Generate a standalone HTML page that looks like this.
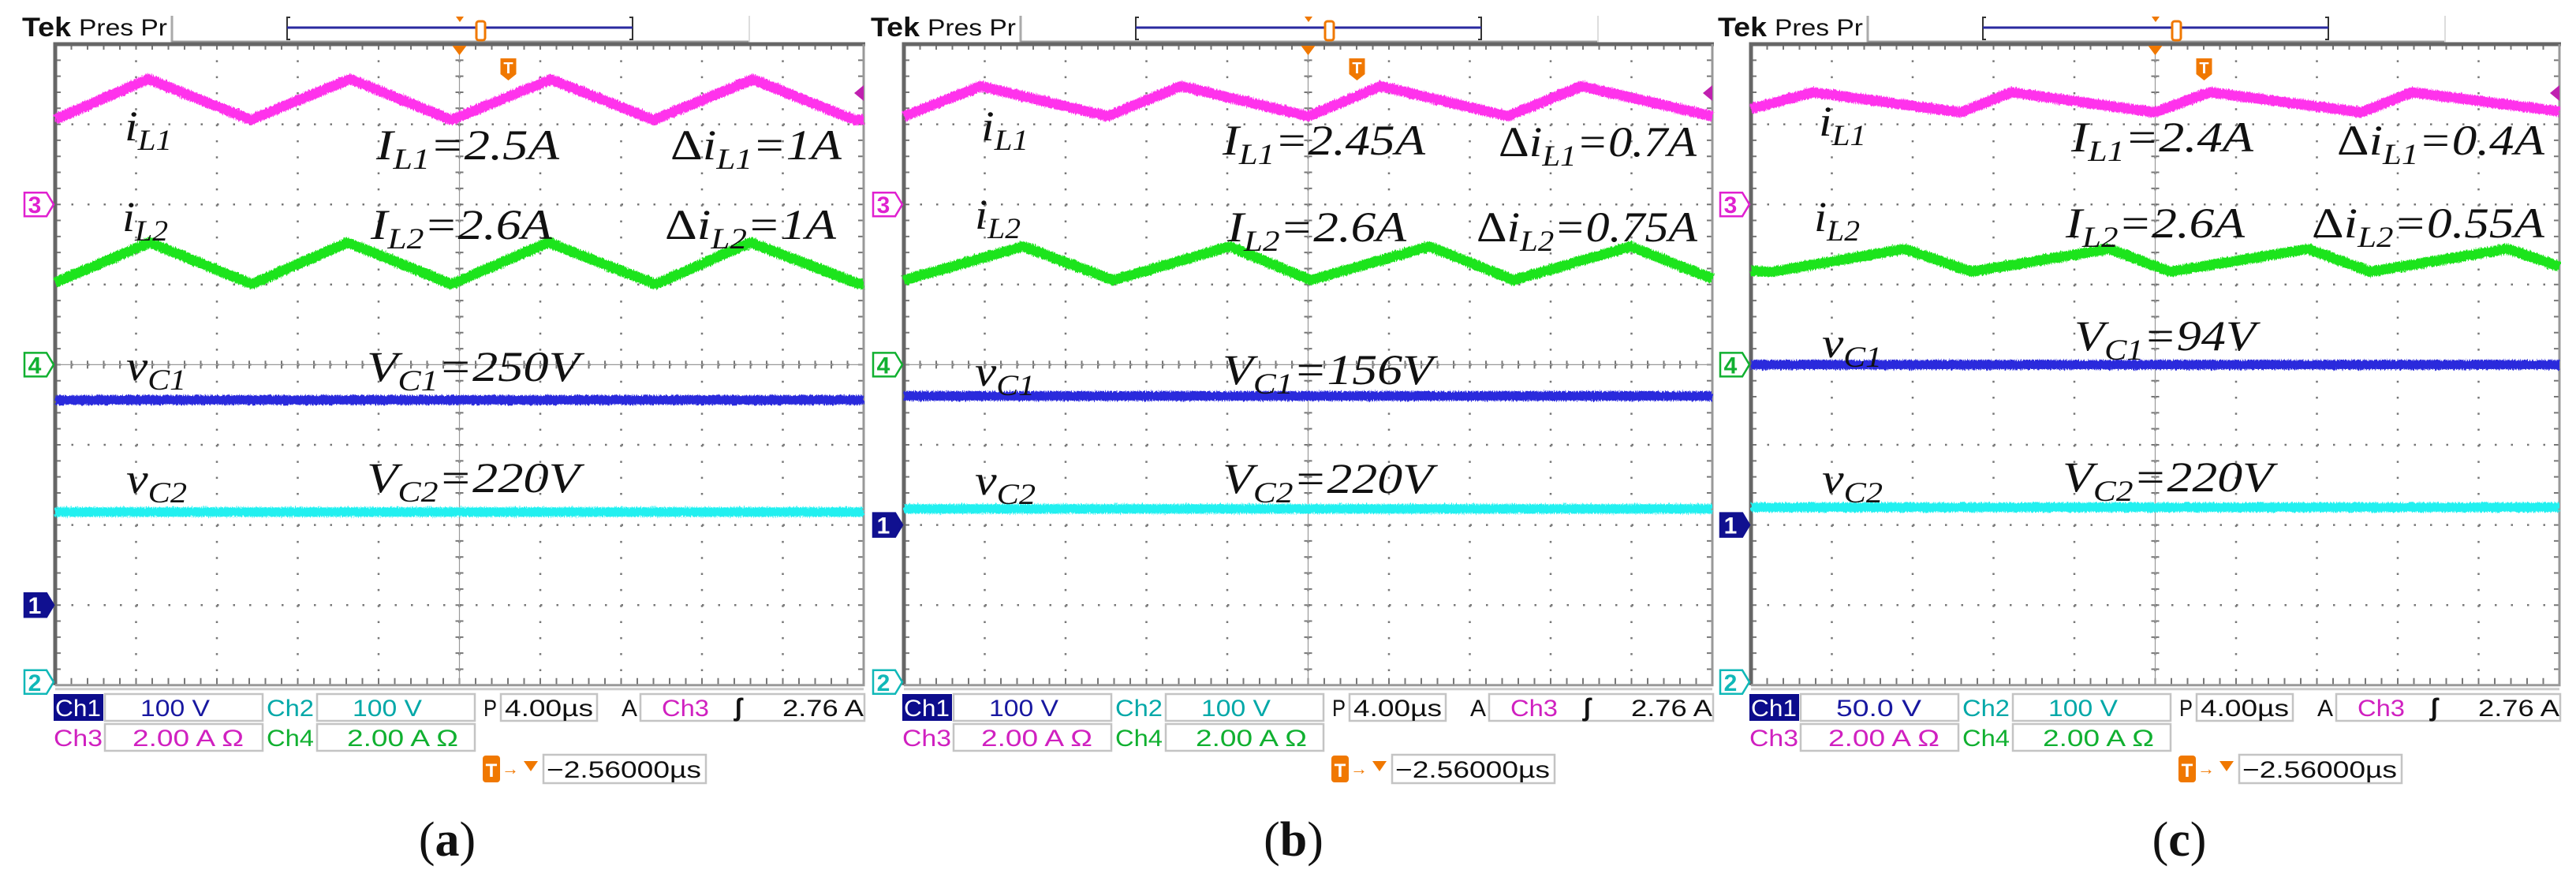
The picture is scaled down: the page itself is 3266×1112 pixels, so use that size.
<!DOCTYPE html>
<html><head><meta charset="utf-8">
<style>
html,body{margin:0;padding:0;background:#fff;}
svg{display:block;}
</style></head>
<body>
<svg id="fig" width="3266" height="1112" viewBox="0 0 3266 1112" xmlns="http://www.w3.org/2000/svg">
<defs>
<filter id="noise" filterUnits="userSpaceOnUse" x="0" y="0" width="3266" height="1112">
<feTurbulence type="fractalNoise" baseFrequency="0.9 0.25" numOctaves="1" seed="3" result="t"/>
<feDisplacementMap in="SourceGraphic" in2="t" scale="7" xChannelSelector="R" yChannelSelector="G"/>
</filter>
</defs>
</svg>
<script>
// ---- data (physical units) ----
const panelLetters = ["a","b","c"];
const timeA_iL1 = [0,1.15,2.42,3.65,4.9,6.13,7.4,8.63,9.9,10];
const valA_iL1  = [2.12,3.13,2.11,3.13,2.11,3.12,2.11,3.12,2.10,2.12];
const timeA_iL2 = [0,1.17,2.43,3.62,4.9,6.1,7.43,8.6,9.95,10];
const valA_iL2  = [2.05,3.05,2.01,3.05,2.01,3.05,2.01,3.05,2.01,2.02];
const timeB_iL1 = [0,0.95,2.52,3.43,5.0,5.9,7.47,8.38,10];
const valB_iL1  = [2.2,2.95,2.2,2.95,2.2,2.95,2.2,2.95,2.2];
const timeB_iL2 = [0,1.48,2.59,4.03,5.03,6.5,7.54,8.99,10];
const valB_iL2  = [2.11,2.95,2.11,2.95,2.11,2.95,2.11,2.95,2.15];
const timeC_iL1 = [0,0.76,2.6,3.22,4.99,5.68,7.55,8.18,10];
const valC_iL1  = [2.38,2.8,2.3,2.8,2.3,2.8,2.3,2.8,2.32];
const timeC_iL2 = [0,0.27,1.9,2.73,4.43,5.19,6.89,7.66,9.36,10];
const valC_iL2  = [2.34,2.32,2.89,2.32,2.89,2.32,2.89,2.32,2.89,2.45];
const timeV = [0,10];
const valA_vC1 = [256,256];
const valA_vC2 = [216,216];
const valB_vC1 = [161,161];
const valB_vC2 = [220,220];
const valC_vC1 = [100,100];
const valC_vC2 = [222,222];
const ch1Scale = [100,100,50];   // V/div
const ch1Pos = [7,6,6];          // marker division from top
const ch1ScaleLabel = ["100 V","100 V","50.0 V"];
const labelIL1 = ["2.5A","2.45A","2.4A"];
const labelIL2 = ["2.6A","2.6A","2.6A"];
const labelDIL1 = ["1A","0.7A","0.4A"];
const labelDIL2 = ["1A","0.75A","0.55A"];
const labelVC1 = ["250V","156V","94V"];
const labelVC2 = ["220V","220V","220V"];

const series = [
 {t1:timeA_iL1,v1:valA_iL1,t2:timeA_iL2,v2:valA_iL2,vc1:valA_vC1,vc2:valA_vC2},
 {t1:timeB_iL1,v1:valB_iL1,t2:timeB_iL2,v2:valB_iL2,vc1:valB_vC1,vc2:valB_vC2},
 {t1:timeC_iL1,v1:valC_iL1,t2:timeC_iL2,v2:valC_iL2,vc1:valC_vC1,vc2:valC_vC2}
];

// ---- layout ----
const NS="http://www.w3.org/2000/svg";
const svg=document.getElementById("fig");
const offsets=[0,1076,2150];
const PL=70, PT=56, DX=102.5, DY=101.6;
const PR=PL+10*DX, PB=PT+8*DY;
const captionX=[567,1640-1076,2763-2150];

function el(tag,attrs,parent){const e=document.createElementNS(NS,tag);for(const k in attrs)e.setAttribute(k,attrs[k]);(parent||svg).appendChild(e);return e;}

// text with subscripts: segs = [[str,isSub,isUpright],...]
function mtext(g,x,y,segs,len,size){
  const t=el("text",{x:x,y:y,"font-family":"'Liberation Serif',serif","font-style":"italic","font-size":size,fill:"#111"},g);
  if(len){t.setAttribute("textLength",len);t.setAttribute("lengthAdjust","spacingAndGlyphs");}
  let sub=false;
  segs.forEach(s=>{
    const ts=el("tspan",{},t);
    if(s[1]&&!sub){ts.setAttribute("dy",12);sub=true;}
    else if(!s[1]&&sub){ts.setAttribute("dy",-12);sub=false;}
    if(s[1])ts.setAttribute("font-size",size*0.68);
    if(s[2])ts.setAttribute("font-style","normal");
    ts.textContent=s[0];
  });
  return t;
}

function stext(g,x,y,str,len,color,size,anchor){
  const t=el("text",{x:x,y:y,"font-family":"'Liberation Sans',sans-serif","font-size":size||30,fill:color||"#111"},g);
  if(len){t.setAttribute("textLength",len);t.setAttribute("lengthAdjust","spacingAndGlyphs");}
  if(anchor)t.setAttribute("text-anchor",anchor);
  t.textContent=str;return t;
}

panelLetters.forEach((L,p)=>{
  const g=el("g",{transform:`translate(${offsets[p]},0)`});
  
  
  const xs=t=>PL+t*DX;
  const yDiv=d=>PT+d*DY;
  const yCh3=v=>yDiv(2)-v/2*DY;
  const yCh4=v=>yDiv(4)-v/2*DY;
  const yCh1=v=>yDiv(ch1Pos[p])-v/ch1Scale[p]*DY;
  const yCh2=v=>yDiv(8)-v/100*DY;

  // header
  const hd=el("g",{},g);
  
  
  const tek=el("text",{x:28,y:46,"font-family":"'Liberation Sans',sans-serif","font-weight":"bold","font-size":34,fill:"#111",textLength:62,lengthAdjust:"spacingAndGlyphs"},hd);
  tek.textContent="Tek";
  stext(hd,100,45,"Pres Pr",112,"#111",30);
  el("line",{x1:218,y1:20,x2:218,y2:54,stroke:"#aaa","stroke-width":3},hd);
  el("line",{x1:218,y1:53,x2:950,y2:53,stroke:"#999","stroke-width":3},hd);
  el("line",{x1:950,y1:20,x2:950,y2:54,stroke:"#ddd","stroke-width":2},hd);
  const rec=el("g",{},hd);
  
  
  el("path",{d:"M368,22 L364,22 L364,50 L368,50 M798,22 L802,22 L802,50 L798,50",fill:"none",stroke:"#333","stroke-width":2},rec);
  el("line",{x1:364,y1:35,x2:802,y2:35,stroke:"#2a2aa0","stroke-width":3},rec);
  el("path",{d:"M578,21 L588,21 L583,28 Z",fill:"#f07800"},rec);
  el("rect",{x:604,y:27,width:11,height:24,rx:3,fill:"#fff",stroke:"#f07800","stroke-width":3},rec);

  // plot
  const plot=el("g",{},g);
  
  
  el("rect",{x:PL,y:PT,width:PR-PL,height:PB-PT,fill:"#fff"},plot);
  for(let i=1;i<10;i++){
    el("line",{x1:xs(i),y1:PT,x2:xs(i),y2:PB,stroke:"#777","stroke-width":2.5,"stroke-dasharray":"2.5 17.82"},plot);
  }
  for(let j=1;j<8;j++){
    el("line",{x1:PL,y1:yDiv(j),x2:PR,y2:yDiv(j),stroke:"#777","stroke-width":2.5,"stroke-dasharray":"2.5 18"},plot);
  }
  let d="";
  for(let k=0;k<=50;k++){const x=PL+k*DX/5;d+=`M${x},${yDiv(4)-5}L${x},${yDiv(4)+5}`;d+=`M${x},${PT}L${x},${PT+7}M${x},${PB}L${x},${PB-9}`;}
  for(let k=0;k<=40;k++){const y=PT+k*DY/5;d+=`M${xs(5)-5},${y}L${xs(5)+5},${y}`;d+=`M${PL},${y}L${PL+7},${y}M${PR},${y}L${PR-7},${y}`;}
  el("path",{d:d,stroke:"#777","stroke-width":2,fill:"none"},plot);
  el("line",{x1:xs(5),y1:PT,x2:xs(5),y2:PB,stroke:"#999","stroke-width":1.2},plot);
  el("line",{x1:PL,y1:yDiv(4),x2:PR,y2:yDiv(4),stroke:"#999","stroke-width":1.2},plot);
  el("path",{d:`M${PL},${PB}L${PL},${PT}L${PR+2},${PT}`,fill:"none",stroke:"#666","stroke-width":5},plot);
  el("path",{d:`M${PR},${PT}L${PR},${PB}L${PL},${PB}`,fill:"none",stroke:"#999","stroke-width":3},plot);
  el("line",{x1:PL,y1:PB+5,x2:PR,y2:PB+5,stroke:"#ccc","stroke-width":3},plot);

  // waveforms
  const S=series[p];
  function wave(ts,vs,fy,color,w,name){
    const pts=ts.map((t,i)=>`${xs(t).toFixed(1)},${fy(vs[i]).toFixed(1)}`).join(" ");
    const pl=el("polyline",{points:pts,fill:"none",stroke:color,"stroke-width":w,"stroke-linejoin":"round",filter:"url(#noise)"},g);
    
    
  }
  wave(S.t1,S.v1,yCh3,"#ff30ec",13,"trace-il1");
  wave(S.t2,S.v2,yCh4,"#1fe41f",13,"trace-il2");
  wave(timeV,S.vc1,yCh1,"#2b2bdc",12,"trace-vc1");
  wave(timeV,S.vc2,yCh2,"#22f0f0",12,"trace-vc2");

  // channel markers
  function marker(y,num,color,filled,name){
    const m=el("g",{},g);
    
    
    el("path",{d:`M31,${y-15}L59,${y-15}L68,${y}L59,${y+15}L31,${y+15}Z`,fill:filled?color:"#fff",stroke:color,"stroke-width":2.5},m);
    const t=stext(m,44,y+11,num,null,filled?"#fff":color,30,"middle");
    t.setAttribute("font-weight","bold");
  }
  marker(yDiv(2),"3","#e020d0",false,"ch3-marker");
  marker(yDiv(4),"4","#10b030",false,"ch4-marker");
  marker(yDiv(ch1Pos[p]),"1","#101090",true,"ch1-marker");
  marker(yDiv(8)-4,"2","#10b8b8",false,"ch2-marker");
  const ta=el("path",{d:`M${PR-12},${PT+62}L${PR},${PT+52}L${PR},${PT+72}Z`,fill:"#c020b0"},g);
  
  
  const tm=el("g",{},g);
  
  
  el("path",{d:`M${xs(5)-9},${PT+2}L${xs(5)+9},${PT+2}L${xs(5)},${PT+14}Z`,fill:"#f07800"},tm);
  el("path",{d:`M${xs(5)+52},${PT+18}L${xs(5)+72},${PT+18}L${xs(5)+72},${PT+38}L${xs(5)+62},${PT+46}L${xs(5)+52},${PT+38}Z`,fill:"#f07800"},tm);
  stext(tm,xs(5)+62,PT+37,"T",null,"#fff",20,"middle").setAttribute("font-weight","bold");

  // annotations
  const an=el("g",{},g);
  
  
  const rows=[
    {a:[p==2?156:(p==1?168:158),[178,178,172][p],[["i",0],["L1",1]],60],
     b:[[477,474,476][p],[202,196,192][p],[["I",0],["L1",1],["="+labelIL1[p],0]],[232,257,231][p]],
     c:[[850,824,813][p],[202,198,196][p],[["Δ",0,1],["i",0],["L1",1],["="+labelDIL1[p],0]],[217,251,263][p]]},
    {a:[p==2?150:(p==1?160:155),[293,290,293][p],[["i",0],["L2",1]],58],
     b:[[470,480,469][p],[303,306,301][p],[["I",0],["L2",1],["="+labelIL2[p],0]],[230,227,227][p]],
     c:[[843,796,781][p],[303,306,301][p],[["Δ",0,1],["i",0],["L2",1],["="+labelDIL2[p],0]],[217,280,295][p]]},
    {a:[160,[482,489,453][p],[["v",0],["C1",1]],76],
     b:[[465,474,480][p],[483,487,444][p],[["V",0],["C1",1],["="+labelVC1[p],0]],[270,267,230][p]]},
    {a:[160,[625,627,625][p],[["v",0],["C2",1]],77],
     b:[[465,474,465][p],[624,625,623][p],[["V",0],["C2",1],["="+labelVC2[p],0]],[270,267,267][p]]}
  ];
  rows.forEach(r=>{
    mtext(an,r.a[0],r.a[1],r.a[2],r.a[3],54);
    mtext(an,r.b[0],r.b[1],r.b[2],r.b[3],54);
    if(r.c) mtext(an,r.c[0],r.c[1],r.c[2],r.c[3],54);
  });

  // bottom readout
  const rd=el("g",{},g);
  
  
  function box(x,y,w,h){el("rect",{x:x,y:y,width:w,height:h,fill:"#fff",stroke:"#c4c4c4","stroke-width":2.5},rd);}
  const c1="#1818a0",c2="#00a8a8",c3="#d020c0",c4="#10b030";
  el("rect",{x:68,y:880,width:63,height:34,fill:"#0c0c8c"},rd);
  stext(rd,70,908,"Ch1",58,"#fff",30);
  box(133,880,200,34); stext(rd,178,908,ch1ScaleLabel[p],ch1ScaleLabel[p].length>5?108:88,c1,30);
  stext(rd,338,908,"Ch2",60,c2,30);
  box(402,880,200,34); stext(rd,447,908,"100 V",88,c2,30);
  stext(rd,613,908,"P",17,"#111",30);
  box(635,880,122,34); stext(rd,640,908,"4.00µs",112,"#111",30);
  stext(rd,788,908,"A",20,"#111",30);
  box(812,880,284,34); stext(rd,839,908,"Ch3",60,c3,30);
  stext(rd,936,908,"ʃ",null,"#111",32,"middle").setAttribute("font-weight","bold");
  stext(rd,992,908,"2.76 A",103,"#111",30);
  stext(rd,68,946,"Ch3",62,c3,30);
  box(133,918,200,34); stext(rd,168,946,"2.00 A Ω",141,c3,30);
  stext(rd,338,946,"Ch4",60,c4,30);
  box(402,918,200,34); stext(rd,440,946,"2.00 A Ω",141,c4,30);
  el("rect",{x:612,y:958,width:22,height:34,rx:4,fill:"#f07800"},rd);
  stext(rd,623,985,"T",null,"#fff",24,"middle").setAttribute("font-weight","bold");
  stext(rd,636,982,"→",null,"#f07800",22);
  el("path",{d:"M664,965L682,965L673,978Z",fill:"#f07800"},rd);
  box(689,957,206,36); stext(rd,693,986,"−2.56000µs",196,"#111",30);

  // caption
  const cap=el("text",{x:captionX[p],y:1085,"font-family":"'Liberation Serif',serif","font-size":62,fill:"#111","text-anchor":"middle"},g);
  
  
  const t1=el("tspan",{},cap);t1.textContent="(";
  const t2=el("tspan",{"font-weight":"bold"},cap);t2.textContent=L;
  const t3=el("tspan",{},cap);t3.textContent=")";
});
</script>
</body></html>
